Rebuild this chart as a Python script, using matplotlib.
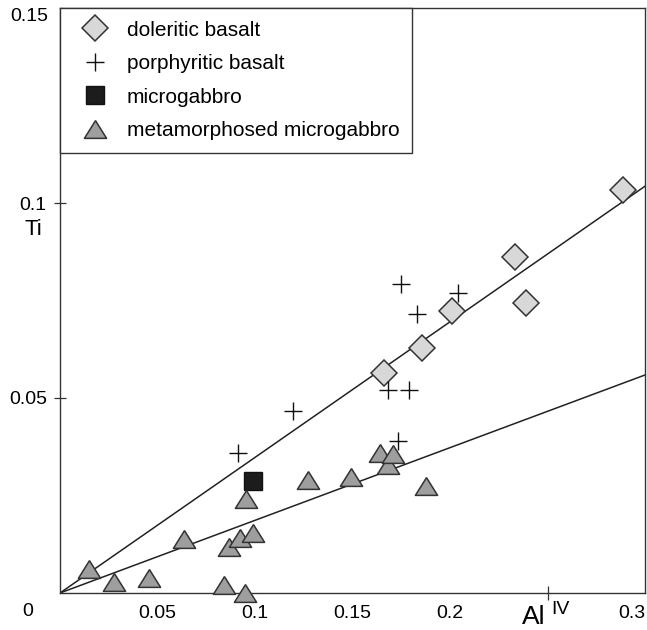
import matplotlib.pyplot as plt

plt.rcParams['font.family'] = ['Liberation Sans', 'DejaVu Sans']

# Al(IV) and Ti (atoms per formula unit) for each sample group
dol_al = [0.166, 0.1855, 0.2009, 0.2333, 0.2390, 0.2888]
dol_ti = [0.0564, 0.0628, 0.0723, 0.0862, 0.0744, 0.1033]

por_al = [0.0915, 0.1197, 0.168, 0.1732, 0.1747, 0.1788, 0.183, 0.204]
por_ti = [0.0359, 0.0467, 0.0521, 0.0390, 0.0792, 0.0521, 0.0715, 0.0769]

mg_al = [0.099]
mg_ti = [0.0288]

meta_al = [0.0149, 0.0277, 0.0457, 0.0637, 0.0839, 0.0865, 0.0925, 0.0951,
           0.0956, 0.099, 0.127, 0.149, 0.164, 0.168, 0.171, 0.1876]
meta_ti = [0.0061, 0.0027, 0.0038, 0.0138, 0.0021, 0.0117, 0.0140, 0.0001,
           0.0240, 0.0153, 0.0290, 0.0298, 0.0358, 0.0328, 0.0356, 0.0274]

# trend lines through the origin
fit_x = [0, 0.3]
basalt_fit = [0, 0.1043]
gabbro_fit = [0, 0.0559]

xtick_vals = [0.05, 0.1, 0.15, 0.2, 0.3]
xtick_labels = ['0.05', '0.1', '0.15', '0.2', '0.3']
ytick_vals = [0.05, 0.1]
ytick_labels = ['0.05', '0.1']

# flattened up-triangle
tri = [(0, 0.8), (-1, -0.8), (1, -0.8), (0, 0.8)]

fig = plt.figure(figsize=(6.47, 6.30), dpi=100)
ax = fig.add_axes([60 / 647, 37 / 630, 585 / 647, 585 / 630])

ax.plot(fit_x, basalt_fit, color='#222222', lw=1.1, zorder=1)
ax.plot(fit_x, gabbro_fit, color='#222222', lw=1.1, zorder=1)

h1, = ax.plot(dol_al, dol_ti, ls='none', marker='D', ms=13, mfc='#d8d8d8',
              mec='#333333', mew=1.1, label='doleritic basalt', zorder=3)
h2, = ax.plot(por_al, por_ti, ls='none', marker='+', ms=13.5, mec='#111111',
              mew=1.0, label='porphyritic basalt', zorder=3)
h3, = ax.plot(mg_al, mg_ti, ls='none', marker='s', ms=13, mfc='#1c1c1c',
              mec='#111111', mew=1.0, label='microgabbro', zorder=3)
h4, = ax.plot(meta_al, meta_ti, ls='none', marker=tri, ms=16, mfc='#9e9e9e',
              mec='#333333', mew=1.1, label='metamorphosed microgabbro',
              zorder=3, clip_on=False)

ax.set_xlim(0, 0.3)
ax.set_ylim(0, 0.15)

for s in ax.spines.values():
    s.set_linewidth(1.0)
    s.set_color('#333333')

# x labels without marks, marks only at 0.15-0.25
ax.set_xticks(xtick_vals)
ax.set_xticklabels(xtick_labels)
ax.tick_params(axis='x', which='major', length=0, pad=8.5, labelsize=14)
ax.get_xticklabels()[-1].set_ha('right')
ax.set_xticks([0.15, 0.2, 0.25], minor=True)
ax.tick_params(axis='x', which='minor', direction='inout', length=10,
               width=0.9, color='#333333')

ax.set_yticks(ytick_vals)
ax.set_yticklabels(ytick_labels)
ax.tick_params(axis='y', direction='inout', length=8, width=0.9, pad=5.5,
               labelsize=14, color='#333333')

ax.text(-12 / 585, 1.0, '0.15', transform=ax.transAxes, ha='right',
        va='top', fontsize=14)
ax.text(-32 / 585, -18 / 585, '0', transform=ax.transAxes, ha='center',
        va='center', fontsize=14)
ax.text(-27 / 585, 0.622, 'Ti', transform=ax.transAxes, ha='center',
        va='center', fontsize=16)
ax.text(0.2428, -24 / 585 * 0.15, 'Al', ha='center', va='center',
        fontsize=19, clip_on=False)
ax.text(0.2565, -16 / 585 * 0.15, 'IV', ha='center', va='center',
        fontsize=14, clip_on=False)

leg = ax.legend(handles=[h1, h2, h3, h4], loc='upper left',
                bbox_to_anchor=(0, 1), borderaxespad=0, fancybox=False,
                edgecolor='#333333', framealpha=1, fontsize=15, numpoints=1,
                handlelength=2.2, handletextpad=0.4, borderpad=0.6,
                labelspacing=0.7)
leg.get_frame().set_linewidth(1.0)

fig.savefig('out.png', dpi=100)
